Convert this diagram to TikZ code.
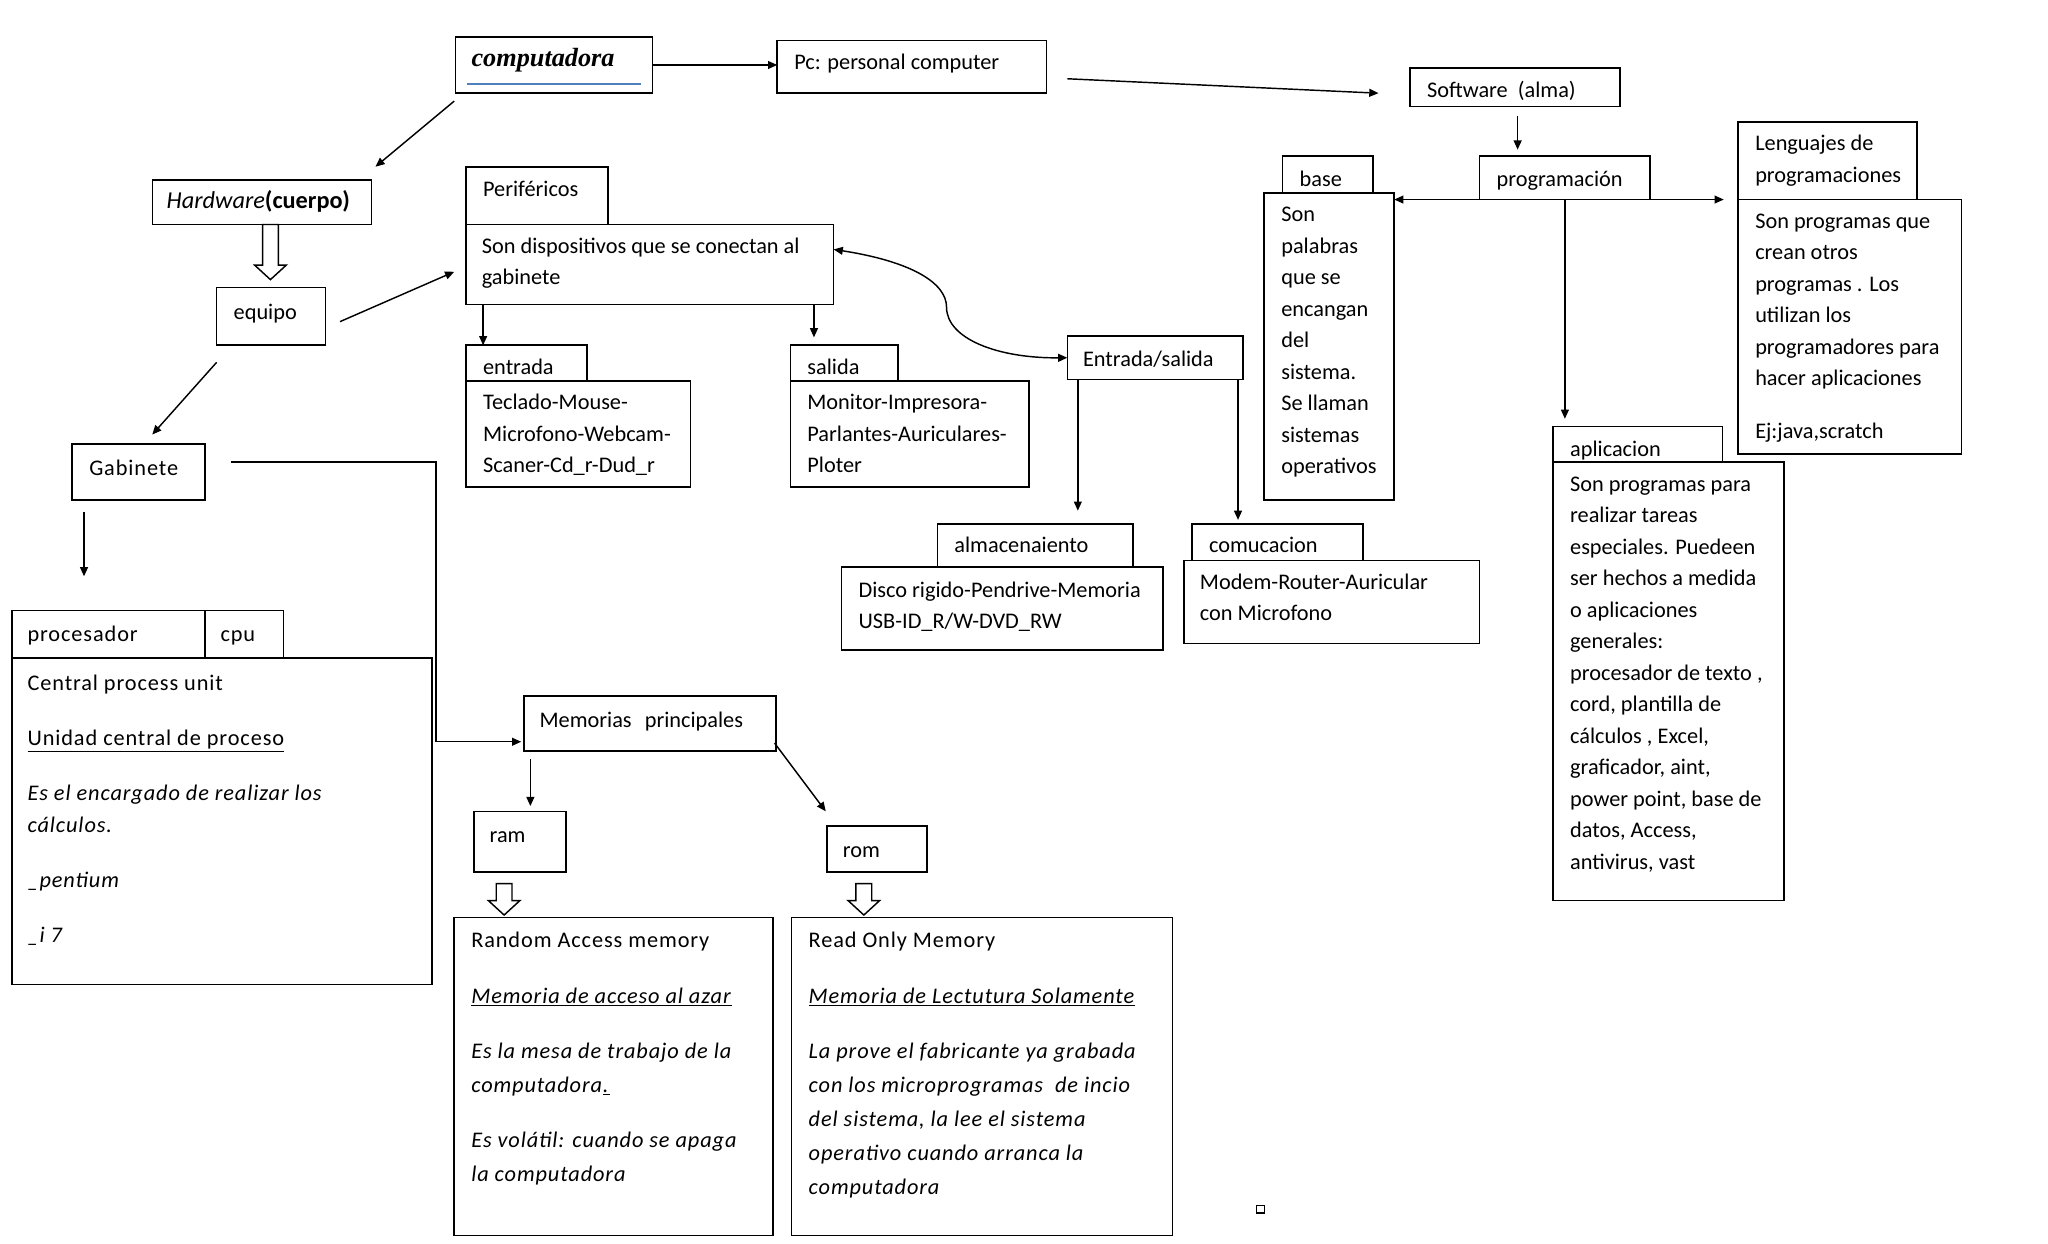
\documentclass[tikz,border=0pt]{standalone}
\usepackage{fontspec}
\setmainfont{Carlito}
\newfontfamily\serifbi{Liberation Serif}
\newfontfamily\widefont[LetterSpace=4]{Carlito}
\usetikzlibrary{arrows.meta,calc}
\newcommand\myst{\rule{0pt}{16.8pt}}
\tikzset{
  box/.style={draw, line width=1.2pt, inner sep=0pt, outer sep=0pt, anchor=north west},
  txt/.style={inner sep=0pt, outer sep=0pt, anchor=north west, align=left, font=\fontsize{17}{24}\selectfont},
  wtxt/.style={txt, font=\widefont\fontsize{17}{24}\selectfont},
  wtxtb/.style={txt, font=\widefont\fontsize{17}{26}\selectfont},
  arr/.style={line width=1.1pt, -{Triangle[length=7pt,width=6pt]}},
  darr/.style={line width=1.1pt, {Triangle[length=7pt,width=6pt]}-{Triangle[length=7pt,width=6pt]}},
  hollow/.style={draw, line width=1.1pt, fill=white, line join=miter},
}
\newcommand\bx[5]{\node[box, minimum width={#4-#2}, minimum height={#5-#3}] (#1) at (#2,#3) {};}
\newcommand\tx[4]{\node[txt] (#1) at (#2,#3-16.8) {\myst #4};}
\newcommand\wtx[4]{\node[wtxt] (#1) at (#2,#3-16.8) {\myst #4};}
\newcommand\wtxb[4]{\node[wtxtb] (#1) at (#2,#3-16.8) {\myst #4};}
\newcommand\hol[2]{\draw[hollow] let \p1=(#1), \p2=(#2) in
  (\x1-6pt,\y1) -- (\x1-6pt,\y2+11pt) -- (\x1-12pt,\y2+11pt) -- (\x1,\y2) --
  (\x1+12pt,\y2+11pt) -- (\x1+6pt,\y2+11pt) -- (\x1+6pt,\y1) -- cycle;}
\begin{document}
\begin{tikzpicture}[x=1pt,y=-1pt]
\fill[white] (0,0) rectangle (1560,947);
\useasboundingbox (0,0) rectangle (1560,947);

% ---------- boxes ----------
\bx{comp}{347}{28}{497}{71}
\bx{pc}{592}{31}{797}{71}
\bx{soft}{1074}{52}{1234}{81}
\bx{prog}{1127}{119}{1257}{152}
\bx{baset}{977}{119}{1046}{147}
\bx{basec}{963}{147}{1062}{381}
\bx{lengt}{1324}{93}{1460}{152}
\bx{lengc}{1324}{152}{1494}{346}
\bx{aplt}{1183}{325}{1312}{352}
\bx{aplc}{1183}{352}{1359}{686}
\bx{hw}{116}{137}{283}{171}
\bx{equipo}{165}{219}{248}{263}
\bx{gab}{55}{338}{156}{381}
\bx{perit}{355}{127}{463}{171}
\bx{peric}{355}{171}{635}{232}
\bx{entt}{355}{263}{447}{290}
\bx{entc}{355}{290}{526}{371}
\bx{salt}{602}{263}{684}{290}
\bx{salc}{602}{290}{784}{371}
\bx{es}{813}{256}{947}{289}
\bx{almt}{714}{399}{863}{432}
\bx{almc}{641}{432}{886}{495}
\bx{comt}{908}{399}{1038}{427}
\bx{comc}{902}{427}{1127}{490}
\bx{proct}{9}{465}{156}{501}
\bx{cput}{156}{465}{216}{501}
\bx{procc}{9}{501}{329}{750}
\bx{mem}{399}{530}{591}{572}
\bx{ram}{361}{618}{431}{664}
\bx{rom}{630}{629}{706}{664}
\bx{ramc}{346}{699}{589}{941}
\bx{romc}{603}{699}{893}{941}
\node[draw, line width=1pt, minimum size=6pt, inner sep=0pt] (sq) at (960,921) {};

% ---------- texts ----------
\node[inner sep=0pt, anchor=base west, font=\serifbi\bfseries\itshape\fontsize{20}{24}\selectfont] (t-comp) at (359,51) {computadora};
\draw[line width=1.5pt, color={rgb,255:red,79;green,129;blue,189}] ($(comp.south west)+(9,-7)$) -- ($(comp.south east)+(-9,-7)$);
\tx{t-pc}{605}{53}{Pc: personal computer}
\tx{t-soft}{1087}{74}{Software~ (alma)}
\tx{t-prog}{1140}{142}{programación}
\tx{t-baset}{990}{142}{base}
\tx{t-basec}{976}{169}{Son\\palabras\\que se\\encangan\\del\\sistema.\\Se llaman\\sistemas\\operativos}
\tx{t-lengt}{1337}{115}{Lenguajes de\\programaciones}
\tx{t-lengc}{1337}{174}{Son programas que\\crean otros\\programas . Los\\utilizan los\\programadores para\\hacer aplicaciones\\[16pt]Ej:java,scratch}
\tx{t-aplt}{1196}{348}{aplicacion}
\tx{t-aplc}{1196}{374}{Son programas para\\realizar tareas\\especiales. Puedeen\\ser hechos a medida\\o aplicaciones\\generales:\\procesador de texto ,\\cord, plantilla de\\cálculos , Excel,\\graficador, aint,\\power point, base de\\datos, Access,\\antivirus, vast}
\node[txt, font=\fontsize{18.5}{24}\selectfont] (t-hw) at (127,159-16.8) {\myst\textit{Hardware}\textbf{(cuerpo)}};
\tx{t-equipo}{178}{243}{equipo}
\wtx{t-gab}{68}{362}{Gabinete}
\tx{t-perit}{368}{150}{Periféricos}
\tx{t-peric}{367}{193}{Son dispositivos que se conectan al\\gabinete}
\tx{t-entt}{368}{285}{entrada}
\tx{t-entc}{368}{312}{Teclado-Mouse-\\Microfono-Webcam-\\Scaner-Cd\_r-Dud\_r}
\tx{t-salt}{615}{285}{salida}
\tx{t-salc}{615}{312}{Monitor-Impresora-\\Parlantes-Auriculares-\\Ploter}
\tx{t-es}{825}{279}{Entrada/salida}
\tx{t-almt}{727}{421}{almacenaiento}
\tx{t-almc}{654}{455}{Disco rigido-Pendrive-Memoria\\USB-ID\_R/W-DVD\_RW}
\tx{t-comt}{921}{421}{comucacion}
\tx{t-comc}{914}{449}{Modem-Router-Auricular\\con Microfono}
\wtx{t-proct}{21}{489}{procesador}
\wtx{t-cput}{168}{489}{cpu}
\wtx{t-procc}{21}{526}{Central process unit\\[18pt]\underline{Unidad central de proceso}\\[18pt]\textit{Es el encargado de realizar los}\\\textit{cálculos.}\\[18pt]\textit{\_pentium}\\[18pt]\textit{\_i 7}}
\tx{t-mem}{411}{554}{Memorias\hspace{10pt}principales}
\tx{t-ram}{373}{642}{ram}
\tx{t-rom}{642}{653}{rom}
\wtxb{t-ramc}{359}{722}{Random Access memory\\[16pt]\underline{\textit{Memoria de acceso al azar}}\\[16pt]\textit{Es la mesa de trabajo de la}\\\textit{computadora}\underline{\textit{.}}\\[16pt]\textit{Es volátil: cuando se apaga}\\\textit{la computadora}}
\wtxb{t-romc}{616}{722}{Read Only Memory\\[16pt]\underline{\textit{Memoria de Lectutura Solamente}}\\[16pt]\textit{La prove el fabricante ya grabada}\\\textit{con los microprogramas~ de incio}\\\textit{del sistema, la lee el sistema}\\\textit{operativo cuando arranca la}\\\textit{computadora}}

% ---------- connectors ----------
\draw[arr] (comp.east) -- (comp.east -| pc.west);
\coordinate (pcout) at (813,60);
\coordinate (softin) at (1050,71);
\draw[arr] (pcout) -- (softin);
\coordinate (s1) at (1156,88);
\draw[arr] (s1) -- ($(s1 |- prog.north)+(0,-5)$);
\draw[arr] (prog.south west) -- (prog.south west -| basec.east);
\draw[arr] (prog.south east) -- ($(prog.south east -| lengc.west)+(-11,0)$);
\draw[arr] (prog.south) -- ($(prog.south |- aplt.north)+(0,-6)$);

\coordinate (c1) at (346,77);
\coordinate (c2) at (286,127);
\draw[arr] (c1) -- (c2);
\coordinate (h1a) at ($(hw.south)+(6.5,0)$);
\coordinate (h1b) at ($(h1a |- equipo.north)+(0,-6)$);
\hol{h1a}{h1b}
\coordinate (e1) at (259,245);
\coordinate (e2) at (346,207);
\draw[arr] (e1) -- (e2);
\coordinate (e3) at (165,276);
\coordinate (e4) at (116,331);
\draw[arr] (e3) -- (e4);
\coordinate (g1) at (64,390);
\coordinate (g2) at (64,439);
\draw[arr] (g1) -- (g2);
\coordinate (g3) at (176,352);
\coordinate (gb) at (332,565);
\draw[arr] (g3) -| (gb) -- ($(gb -| mem.west)+(-2,0)$);

\coordinate (p1) at ($(peric.south west)+(13,0)$);
\draw[arr] (p1) -- (p1 |- entt.north);
\coordinate (p2) at ($(peric.south west)+(265,0)$);
\draw[arr] (p2) -- ($(p2 |- salt.north)+(0,-6)$);
\coordinate (cv1) at ($(peric.north east)+(0,19)$);
\draw[darr] (cv1) .. controls (693,199) and (721,215) .. (721,234) .. controls (721,258) and (760,273) .. (es.west);
\coordinate (es1) at ($(es.south west)+(8,0)$);
\draw[arr] (es1) -- ($(es1 |- almt.north)+(0,-10)$);
\coordinate (es2) at ($(es.south east)+(-4,0)$);
\draw[arr] (es2) -- ($(es2 |- comt.north)+(0,-3)$);

\coordinate (m1) at (404,578);
\draw[arr] (m1) -- ($(m1 |- ram.north)+(0,-4)$);
\coordinate (m2) at (590,566);
\coordinate (m3) at (629,618);
\draw[arr] (m2) -- (m3);
\coordinate (r1a) at ($(ram.south)+(-12,9)$);
\coordinate (r1b) at ($(r1a |- ramc.north)+(0,-2)$);
\hol{r1a}{r1b}
\coordinate (r2a) at ($(rom.south)+(-10,9)$);
\coordinate (r2b) at ($(r2a |- romc.north)+(0,-2)$);
\hol{r2a}{r2b}
\end{tikzpicture}
\end{document}
